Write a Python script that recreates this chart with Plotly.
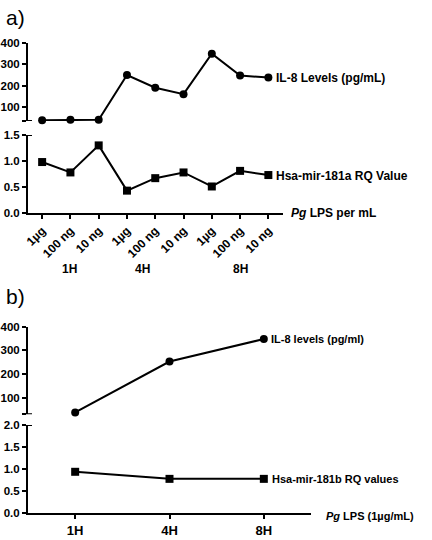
import plotly.graph_objects as go

# ---------------- data ----------------
doses_a = ["1\u00b5g", "100 ng", "10 ng", "1\u00b5g", "100 ng", "10 ng", "1\u00b5g", "100 ng", "10 ng"]
groups_a = ["1H", "4H", "8H"]
il8_a = [37, 40, 40, 250, 190, 160, 350, 247, 238]
rq_a = [0.98, 0.78, 1.30, 0.43, 0.67, 0.78, 0.51, 0.81, 0.73]

times_b = ["1H", "4H", "8H"]
il8_b = [38, 253, 348]
rq_b = [0.94, 0.78, 0.78]

il8_ticks = [100, 200, 300, 400]
rq_a_ticks = [0.0, 0.5, 1.0, 1.5]
rq_b_ticks = [0.0, 0.5, 1.0, 1.5, 2.0]

W, H = 432, 540
FONT = "Liberation Sans, Arial, sans-serif"

def px_x(p):
    return p / W

def px_y(p):
    return 1 - p / H

xa = list(range(len(doses_a)))
xb = list(range(len(times_b)))

fig = go.Figure()

line = dict(color="black", width=2)
fig.add_trace(go.Scatter(x=xa, y=rq_a, mode="lines+markers", line=line,
                         marker=dict(symbol="square", size=8, color="black"),
                         xaxis="x", yaxis="y", cliponaxis=False, showlegend=False))
fig.add_trace(go.Scatter(x=xa, y=il8_a, mode="lines+markers", line=line,
                         marker=dict(symbol="circle", size=8, color="black"),
                         xaxis="x2", yaxis="y2", cliponaxis=False, showlegend=False))
fig.add_trace(go.Scatter(x=xb, y=rq_b, mode="lines+markers", line=line,
                         marker=dict(symbol="square", size=8, color="black"),
                         xaxis="x3", yaxis="y3", cliponaxis=False, showlegend=False))
fig.add_trace(go.Scatter(x=xb, y=il8_b, mode="lines+markers", line=line,
                         marker=dict(symbol="circle", size=8, color="black"),
                         xaxis="x4", yaxis="y4", cliponaxis=False, showlegend=False))

tickfont = dict(family=FONT, size=11.5, color="black", weight="bold")
yax_common = dict(showline=True, linecolor="black", linewidth=2, ticks="outside",
                  ticklen=4, tickwidth=2, tickcolor="black", showgrid=False,
                  zeroline=False, tickfont=tickfont, automargin=False)

A_TOP = (34, 400)
B_TOP = (30, 400)

fig.update_layout(
    width=W, height=H,
    margin=dict(l=0, r=0, t=0, b=0, autoexpand=False),
    paper_bgcolor="white", plot_bgcolor="white",
    xaxis=dict(domain=[px_x(28), px_x(282.5)], range=[-0.5, 8.5], anchor="y",
               tickvals=xa, ticktext=doses_a, tickangle=-45, automargin=False,
               showline=True, linecolor="black", linewidth=2, ticks="outside",
               ticklen=4, tickwidth=2, tickcolor="black", showgrid=False, zeroline=False,
               tickfont=dict(family=FONT, size=12, color="black", weight="bold")),
    yaxis=dict(domain=[px_y(213), px_y(135)], range=[0, 1.5], anchor="x",
               tickvals=rq_a_ticks, ticktext=["0.0", "0.5", "1.0", "1.5"], **yax_common),
    xaxis2=dict(domain=[px_x(28), px_x(282.5)], range=[-0.5, 8.5], anchor="y2",
                visible=False, automargin=False),
    yaxis2=dict(domain=[px_y(121), px_y(43)], range=list(A_TOP), anchor="x2",
                tickvals=[A_TOP[0]] + il8_ticks, ticktext=[""] + [str(t) for t in il8_ticks],
                **yax_common),
    xaxis3=dict(domain=[px_x(28), px_x(311)], range=[-0.5, 2.5], anchor="y3",
                tickvals=xb, ticktext=times_b, automargin=False,
                showline=True, linecolor="black", linewidth=2, ticks="outside",
                ticklen=4, tickwidth=2, tickcolor="black", showgrid=False, zeroline=False,
                tickfont=dict(family=FONT, size=13, color="black", weight="bold")),
    yaxis3=dict(domain=[px_y(513.3), px_y(425)], range=[0, 2.0], anchor="x3",
                tickvals=rq_b_ticks, ticktext=["0.0", "0.5", "1.0", "1.5", "2.0"], **yax_common),
    xaxis4=dict(domain=[px_x(28), px_x(311)], range=[-0.5, 2.5], anchor="y4",
                visible=False, automargin=False),
    yaxis4=dict(domain=[px_y(414.3), px_y(326.7)], range=list(B_TOP), anchor="x4",
                tickvals=[B_TOP[0]] + il8_ticks, ticktext=[""] + [str(t) for t in il8_ticks],
                **yax_common),
)

# axis break caps
caps = [("y2", A_TOP[0]), ("y", 1.5), ("y4", B_TOP[0]), ("y3", 2.0)]
for yr, v in caps:
    fig.add_shape(type="line", xref="paper", yref=yr, x0=px_x(24), x1=px_x(32),
                  y0=v, y1=v, line=dict(color="black", width=2))

lab_a = dict(family=FONT, size=12, color="black", weight="bold")
lab_b = dict(family=FONT, size=11, color="black", weight="bold")
ann = []
# series labels
ann.append(dict(x=xa[-1], y=il8_a[-1], xref="x2", yref="y2", text="IL-8 Levels (pg/mL)",
                xanchor="left", yanchor="middle", xshift=6, showarrow=False, font=lab_a))
ann.append(dict(x=xa[-1], y=rq_a[-1], xref="x", yref="y", text="Hsa-mir-181a RQ Value",
                xanchor="left", yanchor="middle", xshift=6, yshift=-1, showarrow=False, font=lab_a))
ann.append(dict(x=xb[-1], y=il8_b[-1], xref="x4", yref="y4", text="IL-8 levels (pg/ml)",
                xanchor="left", yanchor="middle", xshift=5, showarrow=False, font=lab_b))
ann.append(dict(x=xb[-1], y=rq_b[-1], xref="x3", yref="y3", text="Hsa-mir-181b RQ values",
                xanchor="left", yanchor="middle", xshift=6, showarrow=False, font=lab_b))
# axis titles
ann.append(dict(x=px_x(289), y=px_y(213), xref="paper", yref="paper",
                text="<i>Pg</i> LPS per mL", xanchor="left", yanchor="middle",
                showarrow=False, font=lab_a))
ann.append(dict(x=px_x(324), y=px_y(516), xref="paper", yref="paper",
                text="<i>Pg</i> LPS (1\u00b5g/mL)", xanchor="left", yanchor="middle",
                showarrow=False, font=lab_b))
# group labels under panel a
for gx, g in zip([0.96, 3.55, 7.0], groups_a):
    ann.append(dict(x=gx, y=px_y(269), xref="x", yref="paper", text=g,
                    xanchor="center", yanchor="middle", showarrow=False, font=lab_a))
# panel labels
for t, yp in [("a)", 18), ("b)", 296)]:
    ann.append(dict(x=px_x(4), y=px_y(yp), xref="paper", yref="paper", text=t,
                    xanchor="left", yanchor="middle", showarrow=False,
                    font=dict(family=FONT, size=21, color="black")))

fig.update_layout(annotations=ann)

fig.write_html("out.html")
